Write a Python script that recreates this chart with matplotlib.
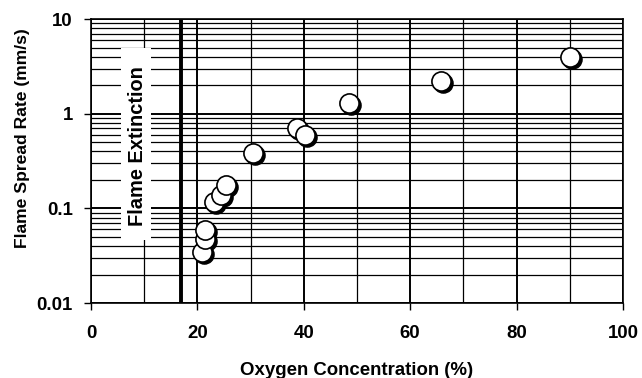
import numpy as np
import matplotlib
matplotlib.use('Agg')
import matplotlib.pyplot as plt
import matplotlib.ticker as mticker
from matplotlib.patches import Rectangle
from matplotlib.transforms import offset_copy

plt.rcParams['font.family'] = ['Liberation Sans', 'DejaVu Sans']
plt.rcParams['font.weight'] = 'bold'

# oxygen concentration (%) vs flame spread rate (mm/s)
oxygen = [20.8, 21.4, 21.5, 23.2, 24.4, 25.3, 30.5, 38.7, 40.2, 48.5, 65.8, 90.1]
spread = [0.035, 0.048, 0.059, 0.117, 0.14, 0.176, 0.38, 0.70, 0.59, 1.30, 2.2, 4.0]

extinction_o2 = 17
x_ticks = [0, 20, 40, 60, 80, 100]
y_ticks = [0.01, 0.1, 1, 10]
y_tick_labels = ['0.01', '0.1', '1', '10']

fig = plt.figure(figsize=(6.42, 3.78), dpi=100)
ax = fig.add_axes([0.1417, 0.1984, 0.8287, 0.7513])

ax.set_yscale('log')
ax.set_xlim(0, 100)
ax.set_ylim(0.01, 10)

ax.set_xticks(x_ticks)
ax.xaxis.set_minor_locator(mticker.MultipleLocator(10))
ax.set_yticks(y_ticks)
ax.set_yticklabels(y_tick_labels)
ax.yaxis.set_minor_locator(mticker.LogLocator(base=10, subs=np.arange(2, 10)))
ax.yaxis.set_minor_formatter(mticker.NullFormatter())

ax.tick_params(which='major', direction='out', length=5, width=1, labelsize=13.4, color='black')
ax.tick_params(which='minor', length=0)
ax.tick_params(axis='x', pad=11)
ax.tick_params(axis='y', pad=8)

ax.grid(True, which='major', color='black', lw=1.4, zorder=1)
ax.grid(True, which='minor', color='black', lw=0.9, zorder=1)
ax.set_axisbelow(True)
for sp in ax.spines.values():
    sp.set_linewidth(1.2)

# extinction limit
ax.axvline(extinction_o2, color='black', lw=2.8, zorder=2)

# label box
ax.add_patch(Rectangle((5.6, 0.046), 5.6, 5.0 - 0.046, facecolor='white',
                       edgecolor='none', zorder=3))
ax.text(8.8, 0.455, 'Flame Extinction', rotation=90, ha='center', va='center',
        fontsize=14.4, fontweight='bold', zorder=4)

# markers with drop shadow
shadow = offset_copy(ax.transData, fig=fig, x=2, y=-2, units='dots')
for xi, yi in zip(oxygen, spread):
    ax.plot(xi, yi, 'o', ms=13.8, color='black', mec='black', transform=shadow, zorder=5)
    ax.plot(xi, yi, 'o', ms=13.8, mfc='white', mec='black', mew=1.2, zorder=6)

ax.set_xlabel('Oxygen Concentration (%)', fontsize=13.4, fontweight='bold', labelpad=14)
ax.set_ylabel('Flame Spread Rate (mm/s)', fontsize=12.6, fontweight='bold')
ax.yaxis.set_label_coords(-0.115, 0.581)

fig.savefig('out.png', dpi=100)
